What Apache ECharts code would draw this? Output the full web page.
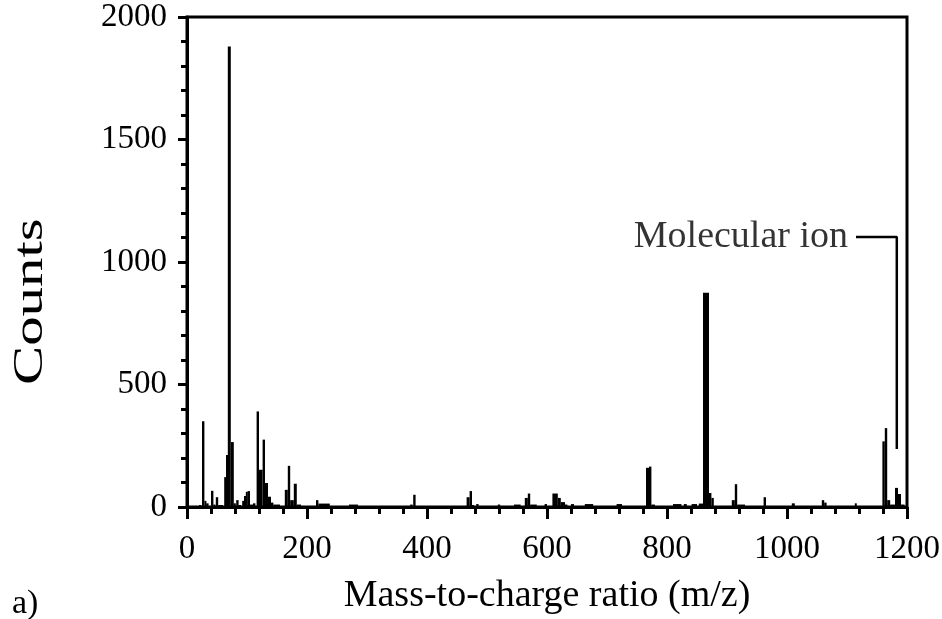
<!DOCTYPE html>
<html>
<head>
<meta charset="utf-8">
<script src="https://cdn.jsdelivr.net/npm/echarts@6/dist/echarts.min.js"></script>
<style>html,body{margin:0;padding:0;background:#fff}#c{width:942px;height:619px}</style>
</head>
<body>
<div id="c"></div>
<script>
// Peak segments: start m/z, end m/z, counts
var mzStart = [20,25,29,32,40,44,48,52,62,65,68,73,78,82,86,92,95,98,101,105,110,116,120,126,130,135,140,144,163,168,172,178,183,215,219,270,372,377,466,471,475,482,518,545,563,568,572,596,609,618,623,630,640,663,716,765,770,774,810,828,841,853,860,870,874,908,913,917,961,1008,1058,1062,1113,1159,1163,1167,1172,1180,1185,1190];
var mzEnd   = [24,29,32,36,44,47,52,60,65,68,73,78,81,86,90,95,98,101,105,110,114,120,126,130,135,140,144,155,168,172,178,183,190,219,238,285,376,381,471,475,478,486,522,556,568,572,583,600,618,623,630,634,645,677,725,770,774,780,824,833,850,860,870,874,878,913,917,930,965,1013,1062,1066,1116,1163,1167,1172,1180,1185,1190,1196];
var counts  = [8,350,25,15,66,10,40,8,122,212,1880,265,15,28,8,25,45,62,65,10,15,390,152,275,98,42,18,10,70,168,28,95,10,28,14,10,10,50,40,65,8,12,10,10,37,55,10,12,55,37,20,10,12,12,12,160,165,10,12,12,12,14,875,57,37,28,93,10,40,15,28,18,15,268,322,28,10,78,53,10];
var xTicks = [0,200,400,600,800,1000,1200];
var yTicks = [0,500,1000,1500,2000];
var annotX = [1115,1183,1183];
var annotY = [1102,1102,237];
var annotText = 'Molecular ion';

var peaks = mzStart.map(function(s,i){return [s, mzEnd[i], counts[i]];});
var annot = annotX.map(function(x,i){return [x, annotY[i]];});

var chart = echarts.init(document.getElementById('c'), null, {renderer:'canvas'});
var axisFont = {fontFamily:'Liberation Serif', fontSize:33, color:'#000'};
chart.setOption({
  animation:false,
  backgroundColor:'#fff',
  grid:{left:187, right:35, top:17, bottom:112, show:true, borderColor:'#000', borderWidth:3,
        containLabel:false, outerBoundsMode:'none'},
  xAxis:{type:'value', min:xTicks[0], max:xTicks[xTicks.length-1], interval:200,
    axisLine:{show:true, onZero:false, lineStyle:{color:'#000', width:3}},
    axisTick:{show:true, inside:false, length:12, lineStyle:{color:'#000', width:3}},
    minorTick:{show:true, splitNumber:5, length:7, lineStyle:{color:'#000', width:3}},
    splitLine:{show:false},
    axisLabel:Object.assign({margin:26, formatter:function(v){return String(v);}}, axisFont),
    name:'Mass-to-charge ratio (m/z)', nameLocation:'middle', nameGap:70,
    nameTextStyle:{fontFamily:'Liberation Serif', fontSize:38, color:'#000'}
  },
  yAxis:{type:'value', min:yTicks[0], max:yTicks[yTicks.length-1], interval:500,
    axisLine:{show:true, lineStyle:{color:'#000', width:3}},
    axisTick:{show:true, inside:false, length:9, lineStyle:{color:'#000', width:3}},
    minorTick:{show:true, splitNumber:5, length:6, lineStyle:{color:'#000', width:3}},
    splitLine:{show:false},
    axisLabel:Object.assign({margin:20, formatter:function(v){return String(v);}}, axisFont)
  },
  graphic:[
    {type:'text', x:10, y:385, rotation:Math.PI/2, scaleX:1.4, scaleY:1,
     style:{text:'Counts', font:'42px "Liberation Serif"', fill:'#000', textAlign:'left', textVerticalAlign:'top'}},
    {type:'text', left:12, top:587, style:{text:'a)', font:'34px "Liberation Serif"', fill:'#000'}}
  ],
  series:[
    {type:'custom', data:peaks, encode:{x:[0,1], y:2}, clip:true,
     renderItem:function(params, api){
       var p1 = api.coord([api.value(0), api.value(2)]);
       var p2 = api.coord([api.value(1), 0]);
       var w = Math.max(p2[0]-p1[0], 2);
       return {type:'rect', shape:{x:p1[0], y:p1[1], width:w, height:p2[1]-p1[1]}, style:{fill:'#000'}};
     }},
    {type:'line', data:annot, symbol:'none', lineStyle:{color:'#000', width:2.5}, silent:true},
    {type:'scatter', data:[annot[0]], symbolSize:0, silent:true,
     label:{show:true, position:'left', distance:8, formatter:annotText,
            fontFamily:'Liberation Serif', fontSize:38, color:'#000'}}
  ]
});
</script>
</body>
</html>
